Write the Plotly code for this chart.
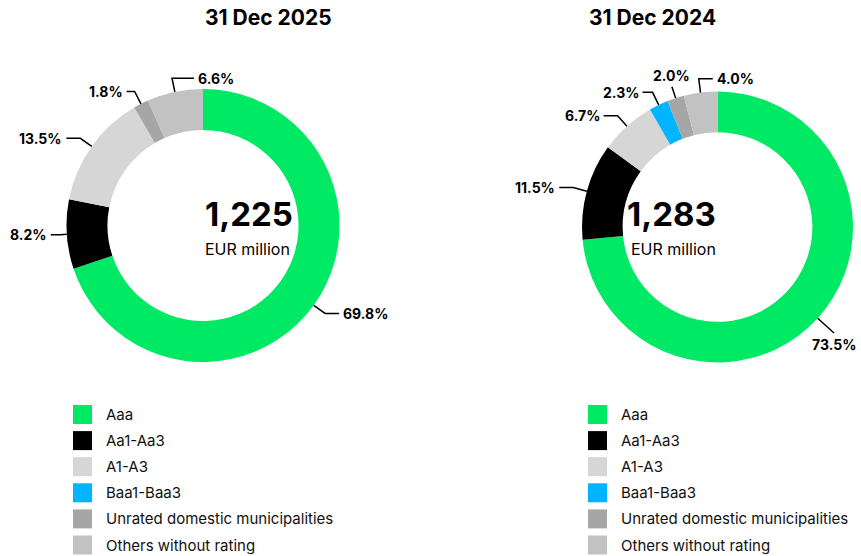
import math
import plotly.graph_objects as go

# --- data -------------------------------------------------------------------
CATEGORIES = ["Aaa", "Aa1-Aa3", "A1-A3", "Baa1-Baa3",
              "Unrated domestic municipalities", "Others without rating"]
SHARE_2025 = [69.8, 8.2, 13.5, 0.0, 1.8, 6.6]
SHARE_2024 = [73.5, 11.5, 6.7, 2.3, 2.0, 4.0]
TOTAL_2025 = 1225
TOTAL_2024 = 1283
TITLES = ["31 Dec 2025", "31 Dec 2024"]
UNIT = "EUR million"

# --- style ------------------------------------------------------------------
COLORS = ["#00E965", "#000000", "#D6D6D6", "#00B5FF", "#A6A6A6", "#C2C2C2"]
FONT = "Inter"
W, H = 861, 556

# pixel geometry of each donut: centre x, centre y, outer radius, legend x
# label style per slice: (side, radial reach, horizontal run)
CHARTS = [
    dict(cx=203, cy=225.5, r=136.5, leg_x=73,
         labels=[("right", 14, 14), ("left", 6, 10), ("left", 14, 14), None,
                 ("left", 14, 8), ("right", 14, 22)]),
    dict(cx=717.5, cy=227, r=135.5, leg_x=588,
         labels=[("down", 22, 0), ("left", 14, 14), ("left", 14, 14),
                 ("left", 14, 10), ("up", 12, 0), ("right", 14, 14)]),
]


def px(x):
    return x / W


def py(y):
    return 1 - y / H


fig = go.Figure()
annotations = []
shapes = []

for chart, shares, total, title in zip(CHARTS, [SHARE_2025, SHARE_2024],
                                       [TOTAL_2025, TOTAL_2024], TITLES):
    cx, cy, r = chart["cx"], chart["cy"], chart["r"]
    fig.add_trace(go.Pie(
        labels=CATEGORIES, values=shares, sort=False, direction="clockwise",
        hole=0.70, textinfo="none", hoverinfo="label+percent",
        marker=dict(colors=COLORS, line=dict(width=0)),
        domain=dict(x=[px(cx - r), px(cx + r)], y=[py(cy + r), py(cy - r)]),
        showlegend=False,
    ))

    # title and centre text
    annotations.append(dict(x=px(cx), y=py(17), yanchor="middle", text=f"<b>{title}</b>",
                            showarrow=False, font=dict(size=21, color="#000")))
    annotations.append(dict(x=px(cx), y=py(214), yanchor="middle", text=f"<b>{total:,}</b>",
                            showarrow=False, font=dict(size=33, color="#000")))
    annotations.append(dict(x=px(cx), y=py(249), yanchor="middle", text=UNIT,
                            showarrow=False, font=dict(size=16, color="#000")))

    # percentage labels with leader lines
    tot = sum(shares)
    cum = 0.0
    for val, style in zip(shares, chart["labels"]):
        mid = (cum + val / 2) / tot
        cum += val
        if not val or style is None:
            continue
        mode, reach, run = style
        th = 2 * math.pi * mid
        sx, sy = math.sin(th), -math.cos(th)
        x0, y0 = cx + r * sx, cy + r * sy
        x1, y1 = cx + (r + reach) * sx, cy + (r + reach) * sy
        pts = [(x0, y0), (x1, y1)]
        if mode == "left":
            pts.append((x1 - run, y1))
            tx, ty, xa, ya = x1 - run - 2, y1, "right", "middle"
        elif mode == "right":
            pts.append((x1 + run, y1))
            tx, ty, xa, ya = x1 + run + 2, y1, "left", "middle"
        elif mode == "up":
            tx, ty, xa, ya = x1, y1 - 1, "center", "bottom"
        else:
            tx, ty, xa, ya = x1, y1 + 1, "center", "top"
        path = "M " + " L ".join(f"{px(a):.5f},{py(b):.5f}" for a, b in pts)
        shapes.append(dict(type="path", xref="paper", yref="paper", path=path,
                           line=dict(color="#000", width=1.5)))
        annotations.append(dict(x=px(tx), y=py(ty), xanchor=xa, yanchor=ya,
                                text=f"<b>{val:.1f}%</b>", showarrow=False,
                                font=dict(size=14, color="#000")))

    # legend
    for i, (cat, col) in enumerate(zip(CATEGORIES, COLORS)):
        yc = 414.5 + i * 26.1
        lx = chart["leg_x"]
        shapes.append(dict(type="rect", xref="paper", yref="paper",
                           x0=px(lx), x1=px(lx + 19), y0=py(yc + 9.5), y1=py(yc - 9.5),
                           fillcolor=col, line=dict(width=0)))
        annotations.append(dict(x=px(lx + 31), y=py(yc), xanchor="left", yanchor="middle",
                                text=cat, showarrow=False,
                                font=dict(size=15, color="#111")))

fig.update_layout(
    width=W, height=H,
    margin=dict(l=0, r=0, t=0, b=0),
    paper_bgcolor="white", plot_bgcolor="white",
    font=dict(family=FONT, color="#000"),
    showlegend=False,
    annotations=annotations,
    shapes=shapes,
)

# the page body has a default 8px margin; drop it so the figure fills the window
fig.write_html("out.html", config={"displayModeBar": False},
               post_script="document.body.style.margin='0';")
